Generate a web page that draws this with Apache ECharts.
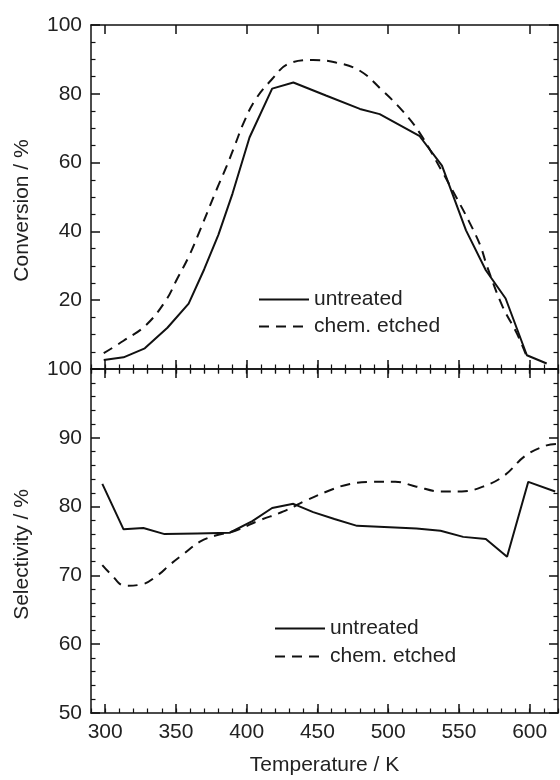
<!DOCTYPE html>
<html>
<head>
<meta charset="utf-8">
<script src="https://cdn.jsdelivr.net/npm/echarts@6/dist/echarts.min.js"></script>
<style>html,body{margin:0;padding:0;background:#fff;}#chart{width:560px;height:780px;}</style>
</head>
<body>
<div id="chart"></div>
<script>
// ---- data ----
const xMajorTicks = [300, 350, 400, 450, 500, 550, 600];

const convUntreatedT = [299, 313, 328, 344, 359, 370, 380, 390, 402, 418, 433, 456, 480, 494, 522, 538, 555, 569, 583, 598, 612];
const convUntreated  = [2.6, 3.4, 6.0, 12.0, 19.0, 29.0, 39.0, 51.0, 67.3, 81.5, 83.3, 79.5, 75.6, 74.1, 67.8, 59.1, 40.3, 28.7, 20.5, 4.0, 1.6];

const convEtchedT = [299, 313, 329, 343, 351, 359, 367, 379, 386, 392, 398, 406, 418, 429, 447, 463, 480, 496, 510, 522, 538, 548, 557, 565, 570, 581, 591, 598];
const convEtched  = [4.6, 8.2, 12.8, 20.0, 26.3, 32.6, 40.3, 52.4, 59.1, 65.4, 71.7, 78.2, 84.3, 88.6, 89.8, 89.1, 86.7, 80.9, 75.1, 68.8, 57.5, 50.0, 43.0, 36.0, 29.7, 18.0, 10.3, 3.5];

const selUntreatedT = [298, 313, 327, 342, 365, 388, 404, 418, 433, 447, 462, 478, 501, 520, 537, 553, 569, 584, 599, 618];
const selUntreated  = [83.3, 76.7, 76.9, 76.0, 76.1, 76.2, 77.9, 79.8, 80.4, 79.2, 78.2, 77.2, 77.0, 76.8, 76.5, 75.6, 75.3, 72.7, 83.6, 82.2];

const selEtchedT = [298, 304, 314, 326, 337, 346, 356, 367, 378, 392, 409, 426, 442, 458, 473, 489, 505, 520, 537, 552, 567, 582, 597, 612, 619];
const selEtched  = [71.5, 70.2, 68.5, 68.7, 70.0, 71.6, 73.2, 74.9, 75.8, 76.5, 78.0, 79.3, 80.9, 82.3, 83.3, 83.6, 83.6, 82.9, 82.2, 82.2, 82.9, 84.5, 87.4, 88.9, 89.1];

const zip = (a, b) => a.map((v, i) => [v, b[i]]);

// ---- styling ----
const FONT = 'Liberation Sans, Arial, sans-serif';
const TXT = '#222';
const LINE = '#111';
const axisLine = { show: true, onZero: false, lineStyle: { color: LINE, width: 1.5 } };

function xMajor(grid, pos, labels) {
  return {
    type: 'value', gridIndex: grid, position: pos, min: 290, max: 620,
    axisLine: axisLine,
    axisTick: { show: true, inside: true, length: 9, customValues: xMajorTicks, lineStyle: { color: LINE, width: 1.5 } },
    axisLabel: labels ? { show: true, customValues: xMajorTicks, fontSize: 21, fontFamily: FONT, color: TXT, margin: 9 } : { show: false },
    splitLine: { show: false },
    name: labels ? 'Temperature / K' : '',
    nameLocation: 'middle', nameGap: 42,
    nameTextStyle: { fontSize: 21, fontFamily: FONT, color: TXT }
  };
}
function xMinor(grid, pos) {
  return {
    type: 'value', gridIndex: grid, position: pos, min: 290, max: 620, interval: 10,
    axisLine: { show: false },
    axisTick: { show: true, inside: true, length: 4.5, lineStyle: { color: LINE, width: 1.2 } },
    axisLabel: { show: false }, splitLine: { show: false }
  };
}
function yAxis(grid, pos, min, max, interval, minorSplit, name, hideMin) {
  const left = pos === 'left';
  return {
    type: 'value', gridIndex: grid, position: pos, min: min, max: max, interval: interval,
    axisLine: axisLine,
    axisTick: { show: true, inside: true, length: 9, lineStyle: { color: LINE, width: 1.5 } },
    minorTick: { show: true, splitNumber: minorSplit, length: 4.5, lineStyle: { color: LINE, width: 1.2 } },
    axisLabel: left ? {
      show: true, fontSize: 21, fontFamily: FONT, color: TXT, margin: 9,
      formatter: v => (hideMin && v === min) ? '' : String(v)
    } : { show: false },
    splitLine: { show: false },
    name: left ? name : '',
    nameLocation: 'middle', nameRotate: 90, nameGap: 58,
    nameTextStyle: { fontSize: 21, fontFamily: FONT, color: TXT, padding: [0, 27, 0, 0] }
  };
}

const solid = { color: '#111', width: 2, type: 'solid' };
const dashed = { color: '#111', width: 2, type: [10, 7] };

const legendCommon = {
  data: ['untreated', 'chem. etched'], orient: 'vertical', itemWidth: 50, itemHeight: 14,
  itemStyle: { opacity: 0 },
  textStyle: { fontSize: 21, fontFamily: FONT, color: TXT }, selectedMode: false
};

const option = {
  backgroundColor: '#fff',
  animation: false,
  textStyle: { fontFamily: FONT },
  grid: [
    { left: 91, top: 25, width: 467, height: 344 },
    { left: 91, top: 369, width: 467, height: 344 }
  ],
  xAxis: [
    xMajor(0, 'bottom', false), xMinor(0, 'bottom'), xMajor(0, 'top', false), xMinor(0, 'top'),
    xMajor(1, 'bottom', true), xMinor(1, 'bottom'), xMajor(1, 'top', false), xMinor(1, 'top')
  ],
  yAxis: [
    yAxis(0, 'left', 0, 100, 20, 4, 'Conversion / %', true),
    yAxis(0, 'right', 0, 100, 20, 4, '', true),
    yAxis(1, 'left', 50, 100, 10, 5, 'Selectivity / %', false),
    yAxis(1, 'right', 50, 100, 10, 5, '', false)
  ],
  legend: [
    Object.assign({}, legendCommon, { left: 253, top: 284, itemGap: 6 }),
    Object.assign({}, legendCommon, { left: 269, top: 613, itemGap: 7 })
  ],
  series: [
    { name: 'untreated', type: 'line', xAxisIndex: 0, yAxisIndex: 0, data: zip(convUntreatedT, convUntreated),
      symbol: 'none', lineStyle: solid, itemStyle: { color: '#111' } },
    { name: 'chem. etched', type: 'line', xAxisIndex: 0, yAxisIndex: 0, data: zip(convEtchedT, convEtched),
      symbol: 'none', smooth: 0.4, lineStyle: dashed, itemStyle: { color: '#111' } },
    { name: 'untreated', type: 'line', xAxisIndex: 4, yAxisIndex: 2, data: zip(selUntreatedT, selUntreated),
      symbol: 'none', lineStyle: solid, itemStyle: { color: '#111' } },
    { name: 'chem. etched', type: 'line', xAxisIndex: 4, yAxisIndex: 2, data: zip(selEtchedT, selEtched),
      symbol: 'none', smooth: 0.4, lineStyle: dashed, itemStyle: { color: '#111' } }
  ]
};

const chart = echarts.init(document.getElementById('chart'), null, { renderer: 'canvas' });
chart.setOption(option);
</script>
</body>
</html>
